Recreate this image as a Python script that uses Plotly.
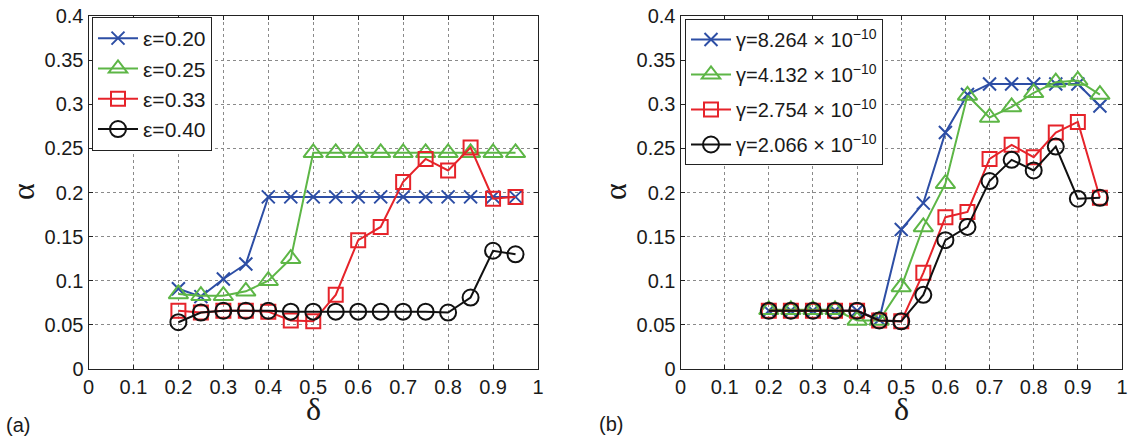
import plotly.graph_objects as go

W, H = 1131, 437

delta = [0.2, 0.25, 0.3, 0.35, 0.4, 0.45, 0.5, 0.55, 0.6, 0.65, 0.7, 0.75, 0.8, 0.85, 0.9, 0.95]

# panel (a)
eps_labels = ["ε=0.20", "ε=0.25", "ε=0.33", "ε=0.40"]
eps020 = [0.091, 0.082, 0.102, 0.119, 0.195, 0.195, 0.195, 0.195, 0.195, 0.195, 0.195, 0.195, 0.195, 0.195, 0.195, 0.195]
eps025 = [0.085, 0.083, 0.083, 0.088, 0.100, 0.125, 0.245, 0.245, 0.245, 0.245, 0.245, 0.245, 0.245, 0.245, 0.245, 0.245]
eps033 = [0.066, 0.064, 0.066, 0.066, 0.065, 0.055, 0.054, 0.084, 0.146, 0.161, 0.212, 0.238, 0.225, 0.251, 0.193, 0.195]
eps040 = [0.053, 0.064, 0.066, 0.066, 0.066, 0.065, 0.065, 0.065, 0.065, 0.065, 0.065, 0.065, 0.064, 0.081, 0.134, 0.130]

# panel (b)
gam_labels = ["γ=8.264 × 10<sup>−10</sup>", "γ=4.132 × 10<sup>−10</sup>",
              "γ=2.754 × 10<sup>−10</sup>", "γ=2.066 × 10<sup>−10</sup>"]
g8264 = [0.066, 0.066, 0.066, 0.066, 0.066, 0.056, 0.158, 0.188, 0.268, 0.311, 0.323, 0.323, 0.323, 0.323, 0.323, 0.298]
g4132 = [0.067, 0.067, 0.067, 0.067, 0.055, 0.055, 0.093, 0.161, 0.210, 0.310, 0.285, 0.297, 0.313, 0.325, 0.327, 0.311]
g2754 = [0.066, 0.066, 0.066, 0.066, 0.066, 0.055, 0.054, 0.109, 0.172, 0.178, 0.238, 0.254, 0.240, 0.268, 0.280, 0.194]
g2066 = [0.066, 0.066, 0.066, 0.066, 0.066, 0.055, 0.054, 0.084, 0.146, 0.161, 0.213, 0.237, 0.225, 0.252, 0.193, 0.194]

x_ticks = [0, 0.1, 0.2, 0.3, 0.4, 0.5, 0.6, 0.7, 0.8, 0.9, 1]
x_ticktext = ["0", "0.1", "0.2", "0.3", "0.4", "0.5", "0.6", "0.7", "0.8", "0.9", "1"]
y_ticks = [0, 0.05, 0.1, 0.15, 0.2, 0.25, 0.3, 0.35, 0.4]
y_ticktext = ["0", "0.05", "0.1", "0.15", "0.2", "0.25", "0.3", "0.35", "0.4"]

colors = ["#2D4EA5", "#5DB646", "#E6232A", "#111111"]
symbols = ["x-thin-open", "triangle-up-open", "square-open", "circle-open"]
sizes = [13, 17, 14, 16]

fig = go.Figure()

def add_series(vals, name, i, xa, ya, legend, grp):
    fig.add_trace(go.Scatter(
        x=delta, y=vals, name=name, mode="lines+markers",
        xaxis=xa, yaxis=ya, legend=legend, legendgroup=grp,
        line=dict(color=colors[i], width=2),
        marker=dict(symbol=symbols[i], size=sizes[i], color=colors[i],
                    line=dict(color=colors[i], width=2)),
    ))

for i, v in enumerate([eps020, eps025, eps033, eps040]):
    add_series(v, eps_labels[i], i, "x", "y", "legend", f"a{i}")
for i, v in enumerate([g8264, g4132, g2754, g2066]):
    add_series(v, gam_labels[i], i, "x2", "y2", "legend2", f"b{i}")

def px_x(p):
    return p / W

def px_y(p):
    return 1 - p / H

tickfont = dict(family="Liberation Sans, Arial, sans-serif", size=20, color="#1a1a1a")
axis_common = dict(
    showline=True, linecolor="#222", linewidth=1, mirror="ticks",
    ticks="inside", ticklen=4, tickcolor="#222",
    showgrid=True, gridcolor="#8a8a8a", gridwidth=1, griddash="dot",
    zeroline=False, tickfont=tickfont, fixedrange=True, automargin=False,
)

fig.update_layout(
    width=W, height=H,
    margin=dict(l=0, r=0, t=0, b=0, pad=0, autoexpand=False),
    paper_bgcolor="white", plot_bgcolor="white",
    showlegend=True,
    xaxis=dict(domain=[px_x(88.5), px_x(538)], range=[0, 1], tickvals=x_ticks, ticktext=x_ticktext,
               anchor="y", **axis_common),
    yaxis=dict(domain=[px_y(369), px_y(16)], range=[0, 0.4], tickvals=y_ticks, ticktext=y_ticktext,
               anchor="x", **axis_common),
    xaxis2=dict(domain=[px_x(680.5), px_x(1122)], range=[0, 1], tickvals=x_ticks, ticktext=x_ticktext,
                anchor="y2", **axis_common),
    yaxis2=dict(domain=[px_y(369), px_y(16)], range=[0, 0.4], tickvals=y_ticks, ticktext=y_ticktext,
                anchor="x2", **axis_common),
    legend=dict(x=px_x(92), y=px_y(17), xanchor="left", yanchor="top",
                bgcolor="white", bordercolor="#222", borderwidth=1,
                font=dict(family="Liberation Sans, Arial, sans-serif", size=21, color="#1a1a1a"),
                itemwidth=40, tracegroupgap=0),
    legend2=dict(x=px_x(685), y=px_y(19), xanchor="left", yanchor="top",
                 bgcolor="white", bordercolor="#222", borderwidth=1,
                 font=dict(family="Liberation Sans, Arial, sans-serif", size=20, color="#1a1a1a"),
                 itemwidth=40, tracegroupgap=6),
)

serif = dict(family="Liberation Serif, Times New Roman, serif", size=32, color="#1a1a1a")
label_font = dict(family="Liberation Sans, Arial, sans-serif", size=20, color="#1a1a1a")
annotations = [
    dict(text="δ", x=px_x(313), y=px_y(409), font=serif),
    dict(text="δ", x=px_x(901), y=px_y(409), font=serif),
    dict(text="α", x=px_x(23), y=px_y(192), font=serif, textangle=-90),
    dict(text="α", x=px_x(615), y=px_y(192), font=serif, textangle=-90),
    dict(text="(a)", x=px_x(18), y=px_y(425), font=label_font),
    dict(text="(b)", x=px_x(611), y=px_y(424), font=label_font),
]
for a in annotations:
    a.update(xref="paper", yref="paper", showarrow=False, xanchor="center", yanchor="middle")
fig.update_layout(annotations=annotations)

fig.write_html(
    "out.html",
    config={"displayModeBar": False},
    post_script="document.body.style.margin='0';document.body.style.overflow='hidden';",
)
